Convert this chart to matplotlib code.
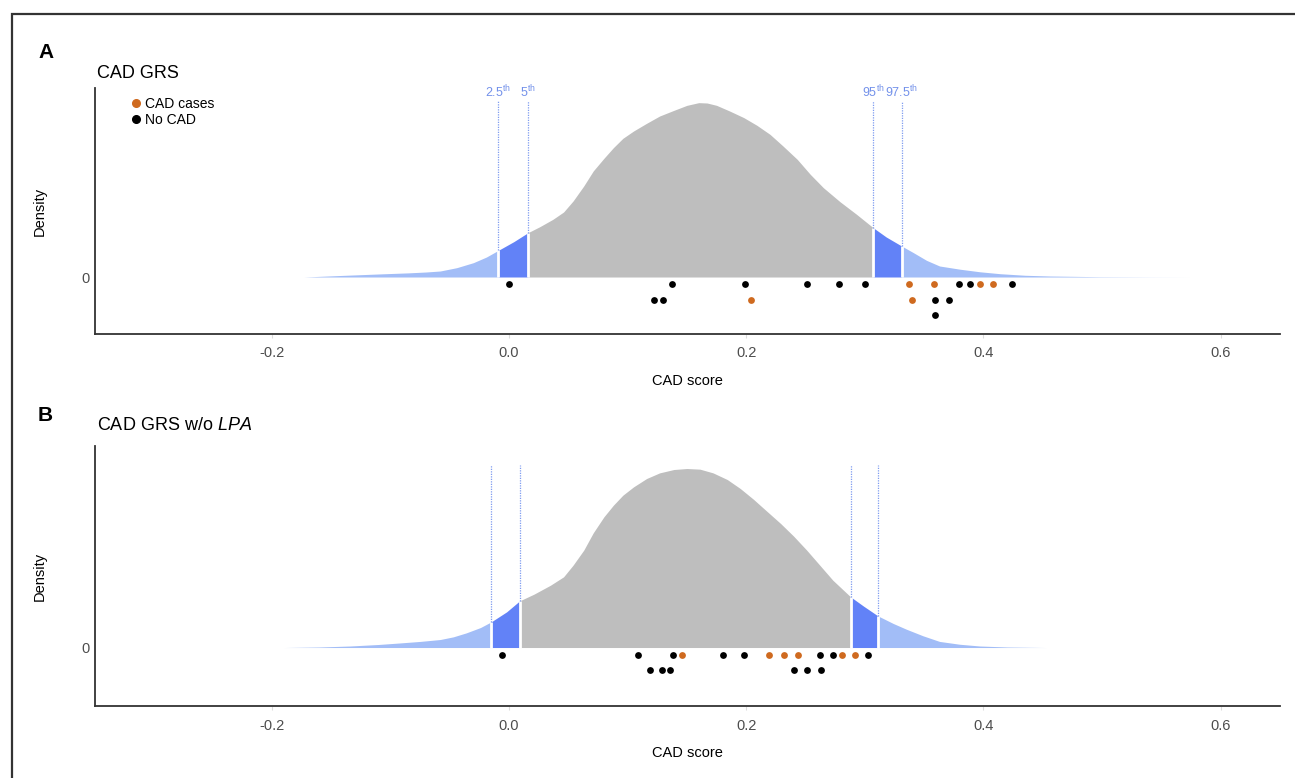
import numpy as np
import matplotlib
matplotlib.use('Agg')
import matplotlib.pyplot as plt
from matplotlib.patches import Rectangle
from matplotlib.lines import Line2D

plt.rcParams['font.family'] = ['Liberation Sans', 'DejaVu Sans']
plt.rcParams['mathtext.fontset'] = 'custom'
plt.rcParams['mathtext.rm'] = 'Liberation Sans'
plt.rcParams['mathtext.it'] = 'Liberation Sans:italic'
plt.rcParams['mathtext.bf'] = 'Liberation Sans:bold'

# density curves (CAD score, density)
a_x = [-0.173, -0.142, -0.105, -0.085, -0.070, -0.058, -0.044, -0.030, -0.019, -0.009,
       0.004, 0.016, 0.026, 0.037, 0.046, 0.054, 0.063, 0.071, 0.080, 0.088,
       0.096, 0.105, 0.116, 0.127, 0.139, 0.150, 0.160, 0.167, 0.175, 0.186,
       0.198, 0.209, 0.220, 0.231, 0.243, 0.254, 0.265, 0.279, 0.293, 0.307,
       0.318, 0.331, 0.341, 0.352, 0.363, 0.380, 0.397, 0.414, 0.435, 0.456,
       0.498, 0.540, 0.574]
a_dens = [0.0, 0.035, 0.075, 0.095, 0.115, 0.138, 0.215, 0.330, 0.460, 0.613,
          0.812, 1.019, 1.157, 1.326, 1.494, 1.747, 2.092, 2.437, 2.728, 2.973,
          3.188, 3.356, 3.533, 3.701, 3.831, 3.946, 4.008, 4.000, 3.946, 3.816,
          3.663, 3.487, 3.280, 3.011, 2.705, 2.360, 2.054, 1.732, 1.441, 1.134,
          0.920, 0.713, 0.559, 0.383, 0.253, 0.180, 0.120, 0.076, 0.040, 0.023,
          0.007, 0.002, 0.0]
b_x = [-0.190, -0.160, -0.134, -0.110, -0.092, -0.075, -0.058, -0.047, -0.036, -0.024,
       -0.015, -0.002, 0.009, 0.021, 0.035, 0.046, 0.054, 0.063, 0.071, 0.080,
       0.088, 0.096, 0.105, 0.116, 0.127, 0.139, 0.150, 0.161, 0.172, 0.184,
       0.195, 0.206, 0.217, 0.229, 0.240, 0.251, 0.262, 0.273, 0.282, 0.288,
       0.299, 0.311, 0.324, 0.335, 0.349, 0.363, 0.380, 0.397, 0.420, 0.453]
b_dens = [0.0, 0.012, 0.035, 0.070, 0.105, 0.140, 0.184, 0.245, 0.337, 0.460,
          0.590, 0.820, 1.073, 1.226, 1.433, 1.625, 1.893, 2.238, 2.636, 3.004,
          3.272, 3.502, 3.693, 3.885, 4.015, 4.092, 4.115, 4.100, 4.015, 3.862,
          3.655, 3.410, 3.142, 2.851, 2.559, 2.238, 1.893, 1.548, 1.318, 1.165,
          0.950, 0.728, 0.552, 0.421, 0.270, 0.140, 0.075, 0.035, 0.012, 0.0]

# 2.5th, 5th, 95th, 97.5th percentiles
a_pct = [-0.009, 0.016, 0.307, 0.331]
b_pct = [-0.015, 0.009, 0.288, 0.311]
pct_labels = ['2.5', '5', '95', '97.5']

# individual scores, with stack row in the dot plot
a_case_x = [0.337, 0.358, 0.397, 0.408, 0.204, 0.340]
a_case_row = [0, 0, 0, 0, 1, 1]
a_ctrl_x = [0.000, 0.137, 0.199, 0.251, 0.278, 0.300, 0.379, 0.389, 0.424,
            0.122, 0.130, 0.359, 0.371, 0.359]
a_ctrl_row = [0, 0, 0, 0, 0, 0, 0, 0, 0, 1, 1, 1, 1, 2]
b_case_x = [0.146, 0.219, 0.232, 0.244, 0.281, 0.292]
b_case_row = [0, 0, 0, 0, 0, 0]
b_ctrl_x = [-0.006, 0.109, 0.138, 0.180, 0.198, 0.262, 0.273, 0.303,
            0.119, 0.129, 0.136, 0.240, 0.251, 0.263]
b_ctrl_row = [0, 0, 0, 0, 0, 0, 0, 0, 1, 1, 1, 1, 1, 1]

LIGHT = '#a2bdf7'
MID = '#6282f7'
GREY = '#bebebe'
LINE = '#7f9cf0'
CASE = '#cf6a1f'


def draw_panel(ax, xs, ds, pct, cases, ctrls, labels, ylim, top_fac):
    xs = np.array(xs)
    ds = np.array(ds)
    eps = 1e-9
    edges = [xs[0]] + list(pct) + [xs[-1]]
    colors = [LIGHT, MID, GREY, MID, LIGHT]
    for lo, hi, c in zip(edges[:-1], edges[1:], colors):
        m = (xs >= lo - eps) & (xs <= hi + eps)
        ax.fill_between(xs[m], 0, ds[m], color=c, lw=0)
    d_cut = [ds[np.argmin(np.abs(xs - q))] for q in pct]
    top = ds.max() * top_fac
    ax.vlines(pct, 0, d_cut, color='white', lw=2, zorder=3)
    ax.vlines(pct, d_cut, top, color=LINE, lw=0.9, linestyles=(0, (1, 1)), zorder=3)
    if labels:
        for q, lab in zip(pct, labels):
            ax.text(q, top + 0.2, lab + r'$^{\rm th}$', color='#7391ea',
                    fontsize=9, ha='center', va='center')

    for (px, prow), col in ((ctrls, 'black'), (cases, CASE)):
        yy = -0.165 - 0.358 * np.array(prow)
        ax.scatter(px, yy, s=24, color=col, lw=0, zorder=4)

    ax.set_xlim(-0.349, 0.650)
    ax.set_ylim(*ylim)
    ax.set_xticks([-0.2, 0.0, 0.2, 0.4, 0.6])
    ax.set_xticklabels(['-0.2', '0.0', '0.2', '0.4', '0.6'])
    ax.set_yticks([0])
    ax.set_yticklabels(['0'])
    ax.tick_params(axis='x', length=3, color='#dddddd', labelcolor='#4d4d4d',
                   labelsize=10.5, pad=6)
    ax.tick_params(axis='y', length=0, labelcolor='#4d4d4d', labelsize=10.5, pad=4)
    for s in ('top', 'right'):
        ax.spines[s].set_visible(False)
    for s in ('left', 'bottom'):
        ax.spines[s].set_color('#333333')
        ax.spines[s].set_linewidth(1.3)
    ax.set_xlabel('CAD score', fontsize=10.5, labelpad=10)
    ax.set_ylabel('Density', fontsize=10.5)
    ax.yaxis.set_label_coords(-0.0405, 0.5)


fig = plt.figure(figsize=(12.95, 7.78), dpi=100)
axA = fig.add_axes([0.0734, 0.5707, 0.915, 0.3162])
axB = fig.add_axes([0.0734, 0.0925, 0.915, 0.3342])

draw_panel(axA, a_x, a_dens, a_pct, (a_case_x, a_case_row), (a_ctrl_x, a_ctrl_row),
           pct_labels, (-1.31, 4.345), 1.01)
draw_panel(axB, b_x, b_dens, b_pct, (b_case_x, b_case_row), (b_ctrl_x, b_ctrl_row),
           None, (-1.345, 4.632), 1.02)

handles = [Line2D([], [], marker='o', ls='', color=CASE, markersize=5.5),
           Line2D([], [], marker='o', ls='', color='black', markersize=5.5)]
axA.legend(handles, ['CAD cases', 'No CAD'], loc='upper left', frameon=False,
           bbox_to_anchor=(0.024, 0.987), fontsize=10, handletextpad=0.15,
           labelspacing=0.15, borderaxespad=0, handlelength=1.0)

fig.text(38 / 1295, 1 - 52 / 778, 'A', fontsize=15, fontweight='bold', va='center')
fig.text(97 / 1295, 1 - 74 / 778, 'CAD GRS', fontsize=13, va='center')
fig.text(38 / 1295, 1 - 416 / 778, 'B', fontsize=15, fontweight='bold', va='center')
fig.text(97 / 1295, 1 - 425 / 778, r'CAD GRS w/o $\it{LPA}$', fontsize=13, va='center')

fig.patches.append(Rectangle((12 / 1295, -0.05), 1.1, 1 - 14 / 778 + 0.05,
                             transform=fig.transFigure, fill=False,
                             edgecolor='#333333', lw=1.6))

fig.savefig('out.png', dpi=100)
